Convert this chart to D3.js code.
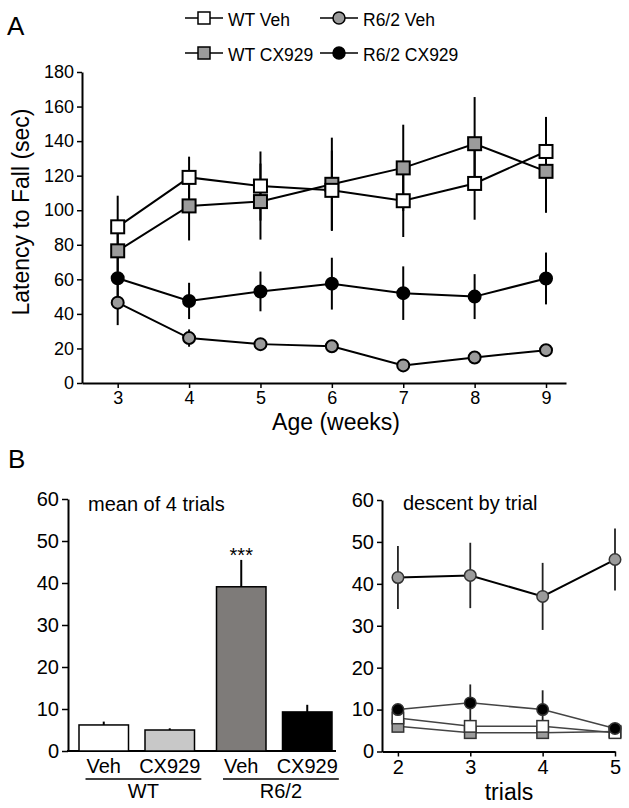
<!DOCTYPE html>
<html><head><meta charset="utf-8">
<script src="https://cdn.jsdelivr.net/npm/d3@7"></script>
<style>
html,body{margin:0;padding:0;background:#fff;}
svg{display:block;font-family:"Liberation Sans",Arial,Helvetica,sans-serif;}
</style></head>
<body><svg id="c" width="629" height="808"></svg>
<script>
// ---------- Data ----------
// Panel A: latency to fall by age
const ages = [3, 4, 5, 6, 7, 8, 9];
const wtVeh      = [90.4, 119, 114, 111.5, 105.5, 115.5, 134];
const wtVehErr   = [18, 12, 20, 23, 21, 21, 20];
const wtCx       = [76.5, 102.5, 105, 115, 124.5, 138.5, 122.5];
const wtCxErr    = [12, 20, 22, 27, 25, 27, 24];
const r62Veh     = [46.5, 26, 22.5, 21.3, 10.2, 14.8, 19];
const r62VehErr  = [13, 5, 3, 2, 1.5, 2, 2];
const r62Cx      = [60.6, 47.5, 53, 57.5, 52, 50, 60.5];
const r62CxErr   = [14, 10.5, 11.5, 15, 15.5, 13, 15];
const ageTicks = [3, 4, 5, 6, 7, 8, 9];
const latencyTicks = [0, 20, 40, 60, 80, 100, 120, 140, 160, 180];

// Panel B left: mean of 4 trials
const genotypes = ["WT", "R6/2"];
const treatments = ["Veh", "CX929"];
const barGroup = ["WT", "WT", "R6/2", "R6/2"];
const barTreat = ["Veh", "CX929", "Veh", "CX929"];
const barValues = [6.2, 5.0, 39.1, 9.3];
const barErr = [0.8, 0.4, 6.4, 1.7];
const descentTicks = [0, 10, 20, 30, 40, 50, 60];

// Panel B right: descent by trial
const trials = [2, 3, 4, 5];
const trWtVeh     = [8, 6, 6, 4.5];
const trWtVehErr  = [0.8, 1, 1, 0.5];
const trWtCx      = [6, 4.5, 4.5, 4.8];
const trWtCxErr   = [0.5, 0.5, 0.5, 0.5];
const trR62Veh    = [41.5, 42, 37, 45.8];
const trR62VehErr = [7.5, 7.8, 8, 7.4];
const trR62Cx     = [10, 11.6, 10, 5.5];
const trR62CxErr  = [1, 4.4, 4.6, 0.8];

const legendLabels = ["WT Veh", "R6/2 Veh", "WT CX929", "R6/2 CX929"];

// ---------- Styles ----------
const GREY = "#9b9b9b";
const barFills = ["#ffffff", "#c8c8c8", "#7e7b79", "#000000"];
const svg = d3.select("#c");

function styleAxis(g, fs) {
  g.selectAll("path.domain").attr("stroke", "#000").attr("stroke-width", 2);
  g.selectAll(".tick line").attr("stroke", "#000").attr("stroke-width", 1.5);
  g.selectAll(".tick text").attr("font-size", fs).attr("fill", "#000")
    .attr("font-family", '"Liberation Sans",Arial,sans-serif');
}

function drawMarker(g, shape, cx, cy, size, fill, stroke, sw) {
  if (shape === "square") {
    g.append("rect").attr("x", cx - size / 2).attr("y", cy - size / 2)
      .attr("width", size).attr("height", size)
      .attr("fill", fill).attr("stroke", stroke).attr("stroke-width", sw);
  } else {
    g.append("circle").attr("cx", cx).attr("cy", cy).attr("r", size / 2)
      .attr("fill", fill).attr("stroke", stroke).attr("stroke-width", sw);
  }
}

// ---------- Panel labels ----------
svg.append("text").attr("x", 7).attr("y", 35).attr("font-size", 26).text("A");
svg.append("text").attr("x", 8).attr("y", 468).attr("font-size", 26).text("B");

// ---------- Legend ----------
const legendShapes = [
  {shape: "square", fill: "#fff"},
  {shape: "circle", fill: GREY},
  {shape: "square", fill: GREY},
  {shape: "circle", fill: "#000"}
];
const legX = [185, 320], legY = [18, 53];
legendLabels.forEach((lab, i) => {
  const col = i % 2, row = Math.floor(i / 2);
  const x0 = legX[col], y0 = legY[row];
  const g = svg.append("g");
  g.append("line").attr("x1", x0).attr("x2", x0 + 38).attr("y1", y0).attr("y2", y0)
    .attr("stroke", "#000").attr("stroke-width", 1.5);
  drawMarker(g, legendShapes[i].shape, x0 + 19, y0, 12, legendShapes[i].fill, "#000", 1.5);
  g.append("text").attr("x", x0 + 43).attr("y", y0 + 8).attr("font-size", 17.5).text(lab);
});

// ---------- Panel A ----------
const xA = d3.scaleLinear().domain([2.5, 9.28]).range([82, 566]);
const yA = d3.scaleLinear().domain([0, 180]).range([383, 72]);

const axA = svg.append("g").attr("transform", "translate(0,383)")
  .call(d3.axisBottom(xA).tickValues(ageTicks).tickFormat(d3.format("d"))
    .tickSize(5).tickSizeOuter(0).tickPadding(3));
styleAxis(axA, 18);
const ayA = svg.append("g").attr("transform", "translate(82,0)")
  .call(d3.axisLeft(yA).tickValues(latencyTicks).tickSize(5).tickSizeOuter(0).tickPadding(3));
styleAxis(ayA, 18);

svg.append("text").attr("x", 336).attr("y", 430).attr("text-anchor", "middle")
  .attr("font-size", 23).text("Age (weeks)");
svg.append("text").attr("transform", "translate(29,212) rotate(-90)")
  .attr("text-anchor", "middle").attr("font-size", 23).text("Latency to Fall (sec)");

const seriesA = [
  {vals: r62Veh, err: r62VehErr, shape: "circle", fill: GREY},
  {vals: r62Cx, err: r62CxErr, shape: "circle", fill: "#000"},
  {vals: wtCx, err: wtCxErr, shape: "square", fill: GREY},
  {vals: wtVeh, err: wtVehErr, shape: "square", fill: "#fff"}
];
const gA = svg.append("g");
seriesA.forEach(s => {
  ages.forEach((a, i) => {
    gA.append("line").attr("x1", xA(a)).attr("x2", xA(a))
      .attr("y1", yA(s.vals[i] - s.err[i])).attr("y2", yA(s.vals[i] + s.err[i]))
      .attr("stroke", "#000").attr("stroke-width", 2);
  });
});
const lineA = d3.line().x((d, i) => xA(ages[i])).y(d => yA(d));
seriesA.forEach(s => {
  gA.append("path").attr("d", lineA(s.vals)).attr("fill", "none")
    .attr("stroke", "#000").attr("stroke-width", 2);
});
seriesA.forEach(s => {
  ages.forEach((a, i) => drawMarker(gA, s.shape, xA(a), yA(s.vals[i]),
    s.shape === "square" ? 13 : 12, s.fill, "#000", 2));
});

// ---------- Panel B left (bars) ----------
const yB = d3.scaleLinear().domain([0, 60]).range([751, 499]);
const x0 = d3.scaleBand().domain(genotypes).range([79, 332]).paddingInner(0.16).paddingOuter(0);
const x1 = d3.scaleBand().domain(treatments).range([0, x0.bandwidth()]).paddingInner(0.25).paddingOuter(0);

const ayB = svg.append("g").attr("transform", "translate(68,0)")
  .call(d3.axisLeft(yB).tickValues(descentTicks).tickSize(6).tickSizeOuter(0).tickPadding(3));
styleAxis(ayB, 20);
svg.append("line").attr("x1", 67).attr("x2", 336).attr("y1", 751).attr("y2", 751)
  .attr("stroke", "#000").attr("stroke-width", 2);

const gB = svg.append("g");
barValues.forEach((v, i) => {
  const bx = x0(barGroup[i]) + x1(barTreat[i]);
  const cx = bx + x1.bandwidth() / 2;
  gB.append("line").attr("x1", cx).attr("x2", cx)
    .attr("y1", yB(v)).attr("y2", yB(v + barErr[i]))
    .attr("stroke", "#000").attr("stroke-width", 2);
  gB.append("rect").attr("x", bx).attr("y", yB(v))
    .attr("width", x1.bandwidth()).attr("height", yB(0) - yB(v))
    .attr("fill", barFills[i]).attr("stroke", "#000").attr("stroke-width", 1.5);
});
// category labels
const labelNodes = {};
barValues.forEach((v, i) => {
  const cx = x0(barGroup[i]) + x1(barTreat[i]) + x1.bandwidth() / 2;
  const t = svg.append("text").attr("x", cx).attr("y", 773).attr("text-anchor", "middle")
    .attr("font-size", 20).text(barTreat[i]);
  (labelNodes[barGroup[i]] = labelNodes[barGroup[i]] || []).push(t.node());
});
genotypes.forEach(gname => {
  const boxes = labelNodes[gname].map(n => n.getBBox());
  const left = d3.min(boxes, b => b.x), right = d3.max(boxes, b => b.x + b.width);
  svg.append("line").attr("x1", left - 1).attr("x2", right + 1).attr("y1", 779).attr("y2", 779)
    .attr("stroke", "#000").attr("stroke-width", 1.5);
  svg.append("text").attr("x", (left + right) / 2).attr("y", 798).attr("text-anchor", "middle")
    .attr("font-size", 20).text(gname);
});
// significance
const sigIdx = 2;
svg.append("text").attr("x", x0(barGroup[sigIdx]) + x1(barTreat[sigIdx]) + x1.bandwidth() / 2)
  .attr("y", 562).attr("text-anchor", "middle").attr("font-size", 20).text("***");
svg.append("text").attr("x", 88).attr("y", 511).attr("font-size", 20).text("mean of 4 trials");

// ---------- Panel B right (by trial) ----------
const xR = d3.scaleLinear().domain([1.78, 5]).range([382, 615]);
const yR = d3.scaleLinear().domain([0, 60]).range([751.5, 500]);
const axR = svg.append("g").attr("transform", "translate(0,751.5)")
  .call(d3.axisBottom(xR).tickValues(trials).tickFormat(d3.format("d")).tickSize(5).tickSizeOuter(0).tickPadding(3));
styleAxis(axR, 20);
const ayR = svg.append("g").attr("transform", "translate(382,0)")
  .call(d3.axisLeft(yR).tickValues(descentTicks).tickSize(5).tickSizeOuter(0).tickPadding(3));
styleAxis(ayR, 20);
svg.append("text").attr("x", 509).attr("y", 800).attr("text-anchor", "middle")
  .attr("font-size", 23).text("trials");
svg.append("text").attr("x", 403).attr("y", 510).attr("font-size", 20).text("descent by trial");

const seriesR = [
  {vals: trWtCx, err: trWtCxErr, shape: "square", fill: GREY, line: "#444", lw: 1.5},
  {vals: trWtVeh, err: trWtVehErr, shape: "square", fill: "#fff", line: "#444", lw: 1.5},
  {vals: trR62Cx, err: trR62CxErr, shape: "circle", fill: "#000", line: "#444", lw: 1.5},
  {vals: trR62Veh, err: trR62VehErr, shape: "circle", fill: GREY, line: "#000", lw: 2}
];
const gR = svg.append("g");
seriesR.forEach(s => {
  trials.forEach((t, i) => {
    gR.append("line").attr("x1", xR(t)).attr("x2", xR(t))
      .attr("y1", yR(s.vals[i] - s.err[i])).attr("y2", yR(s.vals[i] + s.err[i]))
      .attr("stroke", "#222").attr("stroke-width", 1.8);
  });
});
const lineR = d3.line().x((d, i) => xR(trials[i])).y(d => yR(d));
seriesR.forEach(s => {
  gR.append("path").attr("d", lineR(s.vals)).attr("fill", "none")
    .attr("stroke", s.line).attr("stroke-width", s.lw);
});
seriesR.forEach(s => {
  trials.forEach((t, i) => drawMarker(gR, s.shape, xR(t), yR(s.vals[i]), 11.5, s.fill, "#333", 1.5));
});
</script></body></html>
